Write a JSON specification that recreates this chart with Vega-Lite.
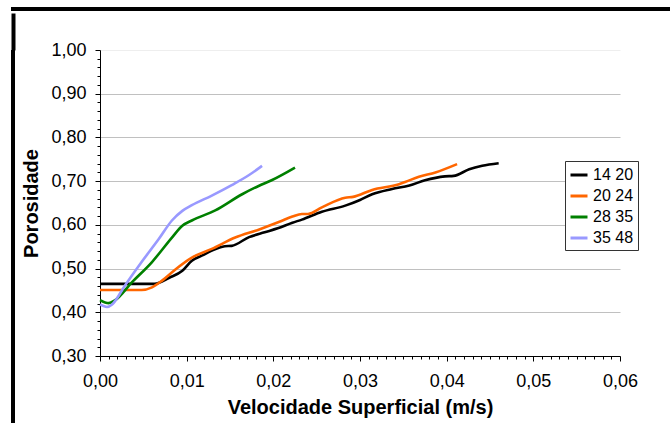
{
  "$schema": "https://vega.github.io/schema/vega-lite/v6.json",
  "background": "white",
  "padding": {"left": 8, "top": 7, "right": 0, "bottom": 0},
  "config": {
    "font": "Liberation Sans",
    "axis": {"labelFont": "Liberation Sans", "titleFont": "Liberation Sans", "labelColor": "black", "titleColor": "black", "domainColor": "black", "tickColor": "black"}
  },
  "spacing": 0,
  "vconcat": [
    {
      "width": 662, "height": 4,
      "view": {"fill": "black", "stroke": null},
      "data": {"values": [{}]},
      "mark": {"type": "rect", "opacity": 0},
      "encoding": {}
    },
    {
      "spacing": 6,
      "hconcat": [
        {
          "width": 4, "height": 375,
          "view": {"fill": "black", "stroke": null},
          "data": {"values": [{}]},
          "mark": {"type": "point", "opacity": 0},
          "encoding": {
            "x": {
              "datum": 0, "type": "quantitative",
              "scale": {"domain": [0, 1]},
              "axis": {"orient": "top", "values": [0.5], "tickSize": 37, "tickWidth": 4, "tickColor": "black", "labels": false, "domain": false, "title": null, "grid": false}
            }
          }
        },
        {
          "width": 520, "height": 306,
          "view": {"stroke": null},
          "data": {"values": [
            {"s": "14 20", "v": 0, "p": 0.465},
            {"s": "14 20", "v": 0.0063, "p": 0.465},
            {"s": "14 20", "v": 0.008, "p": 0.479},
            {"s": "14 20", "v": 0.0095, "p": 0.495},
            {"s": "14 20", "v": 0.0106, "p": 0.518},
            {"s": "14 20", "v": 0.0118, "p": 0.530},
            {"s": "14 20", "v": 0.0129, "p": 0.541},
            {"s": "14 20", "v": 0.0144, "p": 0.551},
            {"s": "14 20", "v": 0.0152, "p": 0.552},
            {"s": "14 20", "v": 0.0172, "p": 0.572},
            {"s": "14 20", "v": 0.019, "p": 0.583},
            {"s": "14 20", "v": 0.0205, "p": 0.592},
            {"s": "14 20", "v": 0.0222, "p": 0.605},
            {"s": "14 20", "v": 0.0233, "p": 0.612},
            {"s": "14 20", "v": 0.0256, "p": 0.630},
            {"s": "14 20", "v": 0.0283, "p": 0.644},
            {"s": "14 20", "v": 0.0300, "p": 0.657},
            {"s": "14 20", "v": 0.0314, "p": 0.670},
            {"s": "14 20", "v": 0.0337, "p": 0.682},
            {"s": "14 20", "v": 0.0357, "p": 0.690},
            {"s": "14 20", "v": 0.0375, "p": 0.702},
            {"s": "14 20", "v": 0.0398, "p": 0.711},
            {"s": "14 20", "v": 0.0408, "p": 0.712},
            {"s": "14 20", "v": 0.0426, "p": 0.727},
            {"s": "14 20", "v": 0.0441, "p": 0.735},
            {"s": "14 20", "v": 0.046, "p": 0.741},
            {"s": "20 24", "v": 0, "p": 0.451},
            {"s": "20 24", "v": 0.0048, "p": 0.451},
            {"s": "20 24", "v": 0.006, "p": 0.457},
            {"s": "20 24", "v": 0.0072, "p": 0.473},
            {"s": "20 24", "v": 0.0087, "p": 0.498},
            {"s": "20 24", "v": 0.0106, "p": 0.525},
            {"s": "20 24", "v": 0.0129, "p": 0.545},
            {"s": "20 24", "v": 0.0156, "p": 0.571},
            {"s": "20 24", "v": 0.0183, "p": 0.589},
            {"s": "20 24", "v": 0.0207, "p": 0.607},
            {"s": "20 24", "v": 0.0222, "p": 0.619},
            {"s": "20 24", "v": 0.0233, "p": 0.625},
            {"s": "20 24", "v": 0.0240, "p": 0.625},
            {"s": "20 24", "v": 0.0256, "p": 0.640},
            {"s": "20 24", "v": 0.0283, "p": 0.662},
            {"s": "20 24", "v": 0.0292, "p": 0.664},
            {"s": "20 24", "v": 0.0314, "p": 0.680},
            {"s": "20 24", "v": 0.0345, "p": 0.693},
            {"s": "20 24", "v": 0.0352, "p": 0.698},
            {"s": "20 24", "v": 0.0368, "p": 0.710},
            {"s": "20 24", "v": 0.0387, "p": 0.720},
            {"s": "20 24", "v": 0.0412, "p": 0.739},
            {"s": "28 35", "v": 0, "p": 0.428},
            {"s": "28 35", "v": 0.001, "p": 0.421},
            {"s": "28 35", "v": 0.0017, "p": 0.427},
            {"s": "28 35", "v": 0.0037, "p": 0.469},
            {"s": "28 35", "v": 0.006, "p": 0.515},
            {"s": "28 35", "v": 0.0083, "p": 0.571},
            {"s": "28 35", "v": 0.0095, "p": 0.598},
            {"s": "28 35", "v": 0.0106, "p": 0.610},
            {"s": "28 35", "v": 0.0133, "p": 0.633},
            {"s": "28 35", "v": 0.0164, "p": 0.670},
            {"s": "28 35", "v": 0.0183, "p": 0.689},
            {"s": "28 35", "v": 0.0198, "p": 0.702},
            {"s": "28 35", "v": 0.0225, "p": 0.731},
            {"s": "35 48", "v": 0, "p": 0.418},
            {"s": "35 48", "v": 0.0008, "p": 0.412},
            {"s": "35 48", "v": 0.0014, "p": 0.418},
            {"s": "35 48", "v": 0.0029, "p": 0.462},
            {"s": "35 48", "v": 0.0048, "p": 0.515},
            {"s": "35 48", "v": 0.0068, "p": 0.568},
            {"s": "35 48", "v": 0.0083, "p": 0.610},
            {"s": "35 48", "v": 0.0095, "p": 0.632},
            {"s": "35 48", "v": 0.0106, "p": 0.645},
            {"s": "35 48", "v": 0.0129, "p": 0.667},
            {"s": "35 48", "v": 0.0152, "p": 0.691},
            {"s": "35 48", "v": 0.0172, "p": 0.714},
            {"s": "35 48", "v": 0.0187, "p": 0.735}
          ]},
          "mark": {"type": "line", "strokeWidth": 2.6, "interpolate": "monotone"},
          "encoding": {
            "x": {
              "field": "v", "type": "quantitative",
              "scale": {"domain": [0, 0.06], "nice": false, "zero": false},
              "axis": {
                "title": "Velocidade Superficial (m/s)",
                "titleFontSize": 20, "titleFontWeight": "bold", "titlePadding": 7,
                "labelFontSize": 18, "labelPadding": 11, "labelOverlap": false, "labelFlush": false,
                "grid": false,
                "values": [0,0.001,0.002,0.003,0.004,0.005,0.006,0.007,0.008,0.009,0.01,0.011,0.012,0.013,0.014,0.015,0.016,0.017,0.018,0.019,0.02,0.021,0.022,0.023,0.024,0.025,0.026,0.027,0.028,0.029,0.03,0.031,0.032,0.033,0.034,0.035,0.036,0.037,0.038,0.039,0.04,0.041,0.042,0.043,0.044,0.045,0.046,0.047,0.048,0.049,0.05,0.051,0.052,0.053,0.054,0.055,0.056,0.057,0.058,0.059,0.06],
                "labelExpr": "abs(datum.value*100 - round(datum.value*100)) < 0.001 ? replace(format(datum.value, '.2f'), '.', ',') : ''",
                "tickSize": {"condition": {"test": "abs(datum.value*100 - round(datum.value*100)) < 0.001", "value": 5}, "value": 3}
              }
            },
            "y": {
              "field": "p", "type": "quantitative",
              "scale": {"domain": [0.3, 1.0], "nice": false, "zero": false},
              "axis": {
                "title": "Porosidade",
                "titleFontSize": 20, "titleFontWeight": "bold", "titlePadding": 9,
                "labelFontSize": 18, "labelPadding": 9, "labelOverlap": false, "labelFlush": false,
                "values": [0.3,0.32,0.34,0.36,0.38,0.4,0.42,0.44,0.46,0.48,0.5,0.52,0.54,0.56,0.58,0.6,0.62,0.64,0.66,0.68,0.7,0.72,0.74,0.76,0.78,0.8,0.82,0.84,0.86,0.88,0.9,0.92,0.94,0.96,0.98,1.0],
                "labelExpr": "abs(datum.value*10 - round(datum.value*10)) < 0.001 ? replace(format(datum.value, '.2f'), '.', ',') : ''",
                "tickSize": {"condition": {"test": "abs(datum.value*10 - round(datum.value*10)) < 0.001", "value": 5}, "value": 3},
                "grid": true,
                "gridColor": {"condition": {"test": "datum.value > 0.99", "value": "#eeeeee"}, "value": "#c0c0c0"},
                "gridOpacity": {"condition": {"test": "abs(datum.value*10 - round(datum.value*10)) < 0.001", "value": 1}, "value": 0}
              }
            },
            "color": {
              "field": "s", "type": "nominal",
              "scale": {"domain": ["14 20", "20 24", "28 35", "35 48"], "range": ["#000000", "#ff6600", "#008000", "#9999ff"]},
              "legend": {
                "title": null, "orient": "none", "legendX": 554, "legendY": 154,
                "strokeColor": "#333333", "fillColor": "white", "padding": 4,
                "symbolType": "stroke", "symbolStrokeWidth": 3, "symbolSize": 289,
                "labelFontSize": 16, "labelColor": "black", "rowPadding": 3, "labelOffset": 4
              }
            }
          }
        }
      ]
    }
  ]
}
